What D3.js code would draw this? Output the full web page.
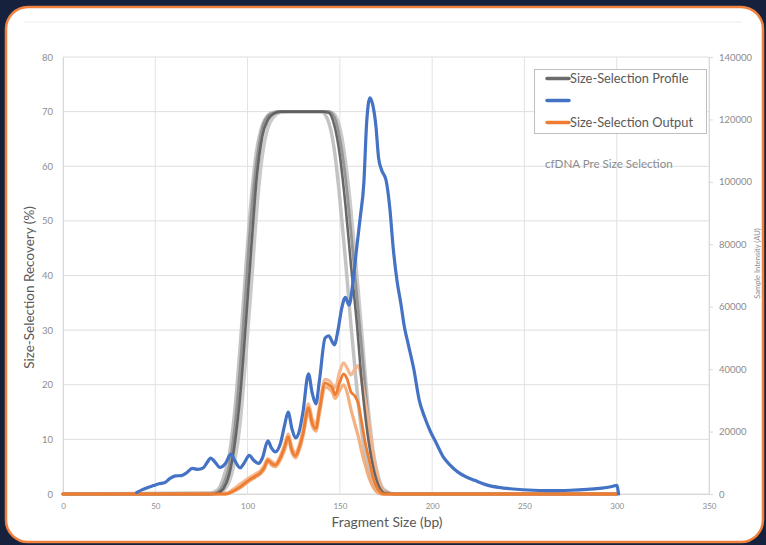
<!DOCTYPE html>
<html>
<head>
<meta charset="utf-8">
<script src="https://cdn.jsdelivr.net/npm/d3@7"></script>
<style>
html,body{margin:0;padding:0;background:#16223d;}
svg{display:block;}
</style>
</head>
<body>
<svg id="chart" width="766" height="545"></svg>
<script>
// ---------- DATA ----------
const xTicks = [0, 50, 100, 150, 200, 250, 300, 350];
const yLeftTicks = [0, 10, 20, 30, 40, 50, 60, 70, 80];
const yRightTicks = [0, 20000, 40000, 60000, 80000, 100000, 120000, 140000];

// Size-selection profile (%), several replicate runs on a shared bp grid
const profileBp = [0, 80, 84, 87, 90, 93, 96, 99, 102, 105, 108, 111, 114, 118, 122, 140, 144, 147, 150, 153, 156, 159, 162, 165, 168, 171, 174, 180, 300];
const profileRunA = [0, 0, 0.2, 1, 3.5, 9, 18, 31, 45, 58, 65.5, 68.5, 69.6, 70, 70, 70, 69.8, 67.5, 62, 53, 42, 32, 20, 11, 5, 1.5, 0.2, 0, 0];
const profileRunB = [0, 0, 0.4, 1.8, 5, 12, 23, 37, 51, 61, 67, 69.2, 69.8, 70, 70, 70, 70, 69, 65, 58, 48, 37, 26, 15, 7, 2.5, 0.5, 0, 0];
const profileRunC = [0, 0.2, 0.8, 3, 7, 15, 27, 41, 54, 63, 67.5, 69.3, 69.9, 70, 70, 70, 68, 63, 54, 43, 31, 20, 11, 5, 1.5, 0.3, 0, 0, 0];
const profileRunD = [0, 0, 0.1, 0.6, 2.2, 6, 13, 25, 38, 52, 62, 67, 69, 69.9, 70, 70, 70, 69.5, 67, 61, 52, 41, 29, 17, 8, 3, 0.8, 0, 0];

// Size-selection output (%), replicate runs on a shared bp grid
const outputBp = [0, 88, 92, 96, 101, 104, 107, 109, 111, 113, 115, 118, 120, 122, 124, 126, 128, 130, 133, 135, 137, 139, 142, 144, 146, 147.5, 150, 152, 154, 156, 158, 160, 162, 164, 166, 168, 170, 172, 174, 177, 300];
const outputMain = [0, 0, 0.5, 1.3, 2.6, 3.2, 3.9, 4.8, 6.2, 5.6, 5.3, 6.8, 8.5, 10.5, 8, 7, 8.5, 11, 15.8, 13, 12, 15.5, 20.3, 20, 19.4, 18.2, 20.5, 22, 21, 18.7, 18, 16.5, 12.8, 9, 6, 3, 1.2, 0.3, 0, 0, 0];
const outputRun2 = [0, 0.1, 0.8, 1.8, 3, 3.6, 4.3, 5.2, 6.5, 6, 5.6, 7.2, 9, 11, 8.6, 7.5, 9, 11.6, 16.5, 13.8, 12.8, 16.3, 21, 20.8, 20, 19.5, 22.5, 24, 23, 21.8, 22.8, 23.5, 20.5, 16.5, 12.3, 7.5, 4, 1.5, 0.4, 0, 0];
const outputRun3 = [0, 0, 0.4, 1.1, 2.4, 3, 3.7, 4.5, 5.9, 5.3, 5, 6.4, 8, 10, 7.6, 6.6, 8, 10.5, 15, 12.5, 11.5, 14.8, 19.6, 19.3, 18.6, 17.5, 19, 20, 18.5, 15.5, 13, 10.5, 7.5, 5, 2.8, 1.3, 0.4, 0, 0, 0, 0];

// cfDNA pre size selection, sample intensity (AU)
const cfdnaBp = [40, 43, 46, 49, 52, 55, 58, 61, 64, 67, 70, 73, 76, 78, 80, 82, 85, 88, 91, 93, 96, 98, 101, 103, 106, 108, 111, 113, 115, 118, 120, 122, 124, 126, 128, 130, 133, 135, 137, 139, 142, 144, 146, 147, 149, 151, 153, 155, 157, 159, 161, 163, 164.5, 166.3, 168, 169.5, 171, 172.6, 175, 177, 179, 181, 183, 185, 187, 190, 193, 196, 199, 202, 206, 210, 214, 218, 223, 229, 236, 244, 255, 265, 275, 284, 292, 298, 300, 301];
const cfdnaAU = [500, 1400, 2100, 2700, 3300, 3600, 5000, 5800, 5900, 6800, 8200, 7900, 8400, 10000, 11500, 10500, 8500, 9800, 12800, 10800, 8400, 9800, 12400, 11000, 9800, 11500, 17000, 14700, 13500, 16600, 21900, 26200, 21000, 18000, 20100, 26200, 38500, 32400, 28900, 36700, 50000, 50700, 48600, 47800, 52500, 59500, 63000, 60500, 67400, 78200, 88400, 99700, 118800, 126900, 124200, 118100, 107600, 103800, 100600, 92000, 78200, 68200, 61200, 53400, 48100, 40200, 30100, 24500, 20100, 16600, 11900, 9100, 7000, 5600, 4400, 3000, 2100, 1600, 1200, 1050, 1200, 1500, 1900, 2500, 2800, 0];

const legendItems = ["Size-Selection Profile", "", "Size-Selection Output"];

// ---------- LAYOUT ----------
const W = 766, H = 545;
const m = {left: 63, right: 709, top: 57, bottom: 494};
const svg = d3.select("#chart");
const font = "Lato, 'Open Sans', sans-serif";

// background panel
svg.append("rect").attr("x", 0).attr("y", 0).attr("width", W).attr("height", H).attr("fill", "#16223d");
svg.append("rect").attr("x", 6).attr("y", 7).attr("width", 757).attr("height", 535)
  .attr("rx", 22).attr("ry", 22).attr("fill", "#ffffff").attr("stroke", "#f0803c").attr("stroke-width", 2.5);
svg.append("line").attr("x1", 24).attr("x2", 742).attr("y1", 22).attr("y2", 22).attr("stroke", "#ececec").attr("stroke-width", 1);

const x = d3.scaleLinear().domain([0, 350]).range([m.left, m.right]);
const yL = d3.scaleLinear().domain([0, 80]).range([m.bottom, m.top]);
const yR = d3.scaleLinear().domain([0, 140000]).range([m.bottom, m.top]);

// gridlines
const grid = svg.append("g");
grid.selectAll(".hg").data(yLeftTicks).join("line")
  .attr("x1", m.left).attr("x2", m.right).attr("y1", d => yL(d)).attr("y2", d => yL(d))
  .attr("stroke", "#dedede").attr("stroke-width", 1);
grid.selectAll(".vg").data(xTicks).join("line")
  .attr("x1", d => x(d)).attr("x2", d => x(d)).attr("y1", m.top).attr("y2", m.bottom)
  .attr("stroke", "#e2e2e2").attr("stroke-width", 1);

// axes
const axL = svg.append("g").attr("transform", `translate(${m.left},0)`)
  .call(d3.axisLeft(yL).tickValues(yLeftTicks).tickSize(0).tickPadding(10));
const axR = svg.append("g").attr("transform", `translate(${m.right},0)`)
  .call(d3.axisRight(yR).tickValues(yRightTicks).tickSize(4).tickPadding(6).tickFormat(d3.format("d")));
const axB = svg.append("g").attr("transform", `translate(0,${m.bottom})`)
  .call(d3.axisBottom(x).tickValues(xTicks).tickSize(0).tickPadding(9));
[axL, axR, axB].forEach(a => {
  a.select(".domain").attr("stroke", "#d9d9d9");
  a.selectAll(".tick line").attr("stroke", "#d9d9d9");
  a.selectAll("text").attr("fill", "#8c8c8c").attr("font-family", font);
});
axL.selectAll("text").attr("font-size", 9.5);
axR.selectAll("text").attr("font-size", 9.5);
axB.selectAll("text").attr("font-size", 8);

// axis titles
svg.append("text").attr("transform", `translate(34,${(m.top + m.bottom) / 2 + 12}) rotate(-90)`)
  .attr("text-anchor", "middle").attr("font-family", font).attr("font-size", 13.5).attr("fill", "#595959")
  .text("Size-Selection Recovery (%)");
svg.append("text").attr("transform", `translate(760,${(m.top + m.bottom) / 2 - 12}) rotate(-90)`)
  .attr("text-anchor", "middle").attr("font-family", font).attr("font-size", 7.5).attr("fill", "#8c8c8c")
  .text("Sample Intensity (AU)");
svg.append("text").attr("x", (m.left + m.right) / 2 + 1).attr("y", 527)
  .attr("text-anchor", "middle").attr("font-family", font).attr("font-size", 13.8).attr("fill", "#595959")
  .text("Fragment Size (bp)");

// lines
const plot = svg.append("g");
function drawSeries(xs, ys, yScale, color, width, opacity) {
  const pts = xs.map((v, i) => [v, ys[i]]);
  plot.append("path").datum(pts)
    .attr("fill", "none").attr("stroke", color).attr("stroke-width", width)
    .attr("stroke-opacity", opacity).attr("stroke-linejoin", "round").attr("stroke-linecap", "round")
    .attr("d", d3.line().x(d => x(d[0])).y(d => yScale(d[1])).curve(d3.curveMonotoneX));
}
drawSeries(profileBp, profileRunD, yL, "#c4c4c4", 3.5, 0.9);
drawSeries(profileBp, profileRunC, yL, "#bcbcbc", 3.5, 0.9);
drawSeries(profileBp, profileRunB, yL, "#8d8d8d", 2.8, 0.9);
drawSeries(outputBp, outputRun2, yL, "#f6b48b", 3.2, 0.95);
drawSeries(outputBp, outputRun3, yL, "#f4a772", 3.2, 0.9);
drawSeries(profileBp, profileRunA, yL, "#5f5f5f", 2.6, 0.95);
drawSeries(outputBp, outputMain, yL, "#ed7d31", 2.8, 1);
drawSeries(cfdnaBp, cfdnaAU, yR, "#4472c4", 3.2, 1);

// legend
const lg = svg.append("g");
lg.append("rect").attr("x", 534.5).attr("y", 69.5).attr("width", 172).attr("height", 64)
  .attr("fill", "#ffffff").attr("stroke", "#bfbfbf").attr("stroke-width", 1);
const legendColors = ["#6b6b6b", "#4472c4", "#ed7d31"];
const legendY = [78.5, 100.5, 122.5];
legendItems.forEach((t, i) => {
  lg.append("line").attr("x1", 547).attr("x2", 569).attr("y1", legendY[i]).attr("y2", legendY[i])
    .attr("stroke", legendColors[i]).attr("stroke-width", 3.5).attr("stroke-linecap", "round");
  if (t) lg.append("text").attr("x", 570).attr("y", legendY[i] + 4.4)
    .attr("font-family", font).attr("font-size", 12.8).attr("fill", "#595959").text(t);
});
svg.append("text").attr("x", 545).attr("y", 168).attr("font-family", font).attr("font-size", 11.6)
  .attr("fill", "#8c8c8c").text("cfDNA Pre Size Selection");
</script>
</body>
</html>
